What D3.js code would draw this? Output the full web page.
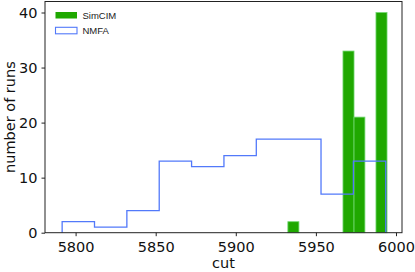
<!DOCTYPE html>
<html>
<head>
<meta charset="utf-8">
<script src="https://cdn.jsdelivr.net/npm/d3@7"></script>
<style>
  body { margin: 0; background: #fff; }
  svg { display: block; font-family: "DejaVu Sans", sans-serif; }
</style>
</head>
<body>
<svg width="415" height="272"></svg>
<script>
// histogram data
var simcimEdges = [5932.5, 5939.4, 5946.3, 5953.1, 5960.0, 5966.9, 5973.8, 5980.6, 5987.5, 5994.4];
var simcimCounts = [2, 0, 0, 0, 0, 33, 21, 0, 40];
var nmfaEdges = [5791.6, 5811.8, 5832.0, 5852.2, 5872.4, 5892.6, 5912.8, 5933.0, 5953.2, 5973.4, 5993.6];
var nmfaCounts = [2, 1, 4, 13, 12, 14, 17, 17, 7, 13];
var xTicks = [5800, 5850, 5900, 5950, 6000];
var yTicks = [0, 10, 20, 30, 40];
var seriesNames = ["SimCIM", "NMFA"];

var svg = d3.select("svg");
var plotLeft = 45, plotRight = 402, plotTop = 1.5, plotBottom = 232.7;

var x = d3.scaleLinear().domain([5780.9, 6003.75]).range([plotLeft, plotRight]);
var y = d3.scaleLinear().domain([0, 42]).range([plotBottom, plotTop]);

var green = "#1fa800";
var greenEdge = "#72d872";
var blue = "#5279fa";

// SimCIM bars
var bins = simcimCounts.map(function (c, i) {
    return { x0: simcimEdges[i], x1: simcimEdges[i + 1], n: c };
}).filter(function (d) { return d.n > 0; });

svg.append("g").selectAll("rect").data(bins).enter().append("rect")
    .attr("x", function (d) { return x(d.x0); })
    .attr("y", function (d) { return y(d.n); })
    .attr("width", function (d) { return x(d.x1) - x(d.x0); })
    .attr("height", function (d) { return y(0) - y(d.n); })
    .attr("fill", green)
    .attr("stroke", greenEdge)
    .attr("stroke-width", 0.8);

// NMFA step outline
var pts = [[nmfaEdges[0], 0]];
nmfaCounts.forEach(function (c, i) {
    pts.push([nmfaEdges[i], c]);
    pts.push([nmfaEdges[i + 1], c]);
});
pts.push([nmfaEdges[nmfaEdges.length - 1], 0]);

svg.append("path")
    .attr("d", d3.line().x(function (d) { return x(d[0]); }).y(function (d) { return y(d[1]); })(pts))
    .attr("fill", "none")
    .attr("stroke", blue)
    .attr("stroke-width", 1.3);

// axes
var xAxis = svg.append("g")
    .attr("transform", "translate(0," + plotBottom + ")")
    .call(d3.axisBottom(x).tickValues(xTicks).tickSize(3.5).tickPadding(5.5).tickFormat(d3.format("d")));
var yAxis = svg.append("g")
    .attr("transform", "translate(" + plotLeft + ",0)")
    .call(d3.axisLeft(y).tickValues(yTicks).tickSize(3.5).tickPadding(4).tickFormat(d3.format("d")));

[xAxis, yAxis].forEach(function (g) {
    g.select(".domain").remove();
    g.selectAll("line").attr("stroke", "#222");
    g.selectAll("text").attr("font-size", 14.5).attr("font-family", "DejaVu Sans").attr("fill", "#111");
});

// frame
svg.append("rect")
    .attr("x", plotLeft).attr("y", plotTop)
    .attr("width", plotRight - plotLeft).attr("height", plotBottom - plotTop)
    .attr("fill", "none").attr("stroke", "#222").attr("stroke-width", 1);

// axis labels
svg.append("text")
    .attr("x", (plotLeft + plotRight) / 2).attr("y", 268)
    .attr("text-anchor", "middle").attr("font-size", 14.5).attr("fill", "#111")
    .text("cut");
svg.append("text")
    .attr("transform", "translate(14.5," + (plotTop + plotBottom) / 2 + ") rotate(-90)")
    .attr("text-anchor", "middle").attr("font-size", 14.5).attr("fill", "#111")
    .text("number of runs");

// legend
var legend = svg.append("g");
seriesNames.forEach(function (name, i) {
    var ly = 12 + i * 15.3;
    legend.append("rect")
        .attr("x", 55.5).attr("y", ly)
        .attr("width", 21.5).attr("height", 6.5)
        .attr("fill", i === 0 ? green : "none")
        .attr("stroke", i === 0 ? green : blue)
        .attr("stroke-width", i === 0 ? 0 : 1.1);
    legend.append("text")
        .attr("x", 82.5).attr("y", ly + 6.8)
        .attr("font-family", "'Liberation Sans Narrow', 'Liberation Sans', sans-serif")
        .attr("font-size", 9.5).attr("fill", "#222")
        .text(name);
});
</script>
</body>
</html>
